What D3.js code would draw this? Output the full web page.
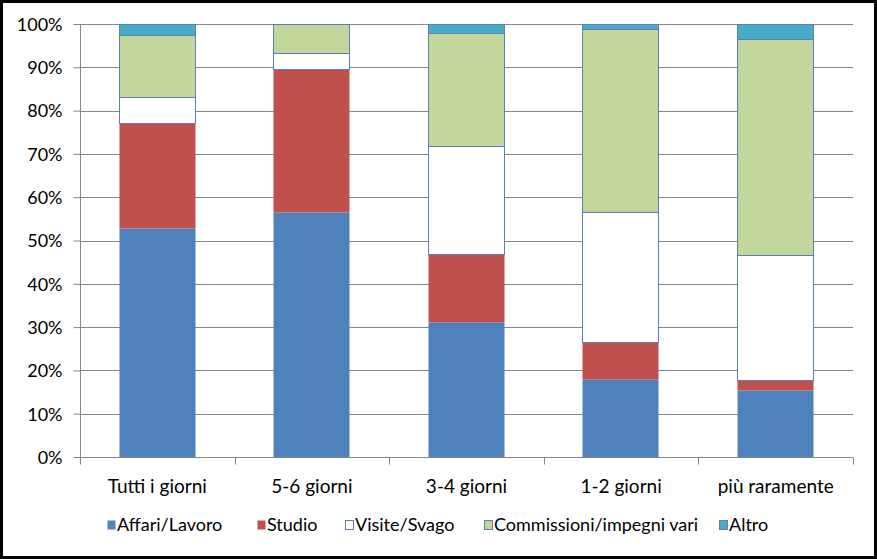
<!DOCTYPE html>
<html><head><meta charset="utf-8">
<script src="https://cdn.jsdelivr.net/npm/d3@7"></script>
<style>html,body{margin:0;padding:0;background:#fff;} text{font-family:Lato,"Open Sans",sans-serif;fill:#000;}</style>
</head><body>
<svg id="chart" width="877" height="559"></svg>
<script>
const categories = ["Tutti i giorni", "5-6 giorni", "3-4 giorni", "1-2 giorni", "più raramente"];
const seriesNames = ["Affari/Lavoro", "Studio", "Visite/Svago", "Commissioni/impegni vari", "Altro"];
const affari      = [53.0, 56.6, 31.2, 18.0, 15.5];
const studio      = [24.1, 32.9, 15.6, 8.5, 2.2];
const visite      = [6.0, 3.7, 25.0, 30.1, 28.9];
const commissioni = [14.4, 6.8, 26.1, 42.2, 50.0];
const altro       = [2.5, 0.0, 2.1, 1.2, 3.4];
const yTicks = [0, 10, 20, 30, 40, 50, 60, 70, 80, 90, 100];

const seriesValues = [affari, studio, visite, commissioni, altro];
const colors = ["#4F81BD", "#C0504D", "#FFFFFF", "#C3D69B", "#4BACC6"];
const strokes = [null, null, "#5A7EB5", "#5A7EB5", "#5A7EB5"];

const svg = d3.select("#chart");
const W = 877, H = 559;
const m = {left: 80, right: 24, top: 24, bottom: 102};

svg.append("rect").attr("x", 1.5).attr("y", 1.5).attr("width", W - 3).attr("height", H - 3)
  .attr("fill", "#fff").attr("stroke", "#000").attr("stroke-width", 3);

const x = d3.scaleBand().domain(categories).range([m.left, W - m.right]).paddingInner(0.5).paddingOuter(0.25);
const y = d3.scaleLinear().domain([0, 100]).range([H - m.bottom, m.top]);

// gridlines
svg.append("g").selectAll("line").data(yTicks.filter(d => d > 0)).join("line")
  .attr("x1", m.left).attr("x2", W - m.right)
  .attr("y1", d => Math.round(y(d)) + 0.5).attr("y2", d => Math.round(y(d)) + 0.5)
  .attr("stroke", "#868686").attr("stroke-width", 1);

// stacked data
const table = categories.map((c, i) => {
  const o = {cat: c};
  seriesNames.forEach((s, j) => o[s] = seriesValues[j][i]);
  return o;
});
const stack = d3.stack().keys(seriesNames)(table);

stack.forEach((layer, j) => {
  svg.append("g").selectAll("rect").data(layer).join("rect")
    .attr("x", d => Math.round(x(d.data.cat)) + 0.5)
    .attr("width", Math.round(x.bandwidth()) - 1)
    .attr("y", d => Math.round(y(d[1])) + 0.5)
    .attr("height", d => Math.max(0, Math.round(y(d[0])) - Math.round(y(d[1]))))
    .attr("fill", colors[j])
    .attr("stroke", strokes[j] || "none")
    .attr("stroke-width", 1);
});

// y axis
const yAxis = d3.axisLeft(y).tickValues(yTicks).tickFormat(d => d + "%").tickSize(7).tickPadding(11);
const gy = svg.append("g").attr("transform", `translate(${m.left + 0.5},0)`).call(yAxis);
gy.select(".domain").attr("stroke", "#868686").attr("d", `M0,${m.top}V${H - m.bottom}`);
gy.selectAll(".tick line").attr("stroke", "#868686");
gy.selectAll(".tick text").style("font-size", "18px").style("font-family", "Lato").attr("dy", "0.35em");

// x axis
const gx = svg.append("g").attr("transform", `translate(0,${Math.round(y(0)) + 0.5})`);
gx.append("line").attr("x1", m.left).attr("x2", W - m.right).attr("stroke", "#868686");
const step = x.step();
const bounds = d3.range(categories.length + 1).map(i => m.left + i * step);
gx.selectAll("line.tk").data(bounds).join("line").attr("class", "tk")
  .attr("x1", d => Math.round(d) + 0.5).attr("x2", d => Math.round(d) + 0.5)
  .attr("y1", 0).attr("y2", 7).attr("stroke", "#868686");
gx.selectAll("text").data(categories).join("text")
  .attr("x", d => x(d) + x.bandwidth() / 2).attr("y", 35)
  .attr("text-anchor", "middle").style("font-size", "19px").text(d => d);

// legend
const legendX = [107, 257, 345, 484, 719];
const lg = svg.append("g").attr("transform", "translate(0,525)");
seriesNames.forEach((s, j) => {
  lg.append("rect").attr("x", legendX[j] + 0.5).attr("y", -4.5).attr("width", 8).attr("height", 9)
    .attr("fill", colors[j]).attr("stroke", j >= 2 ? "#5A7EB5" : "none").attr("stroke-width", 1);
  lg.append("text").attr("x", legendX[j] + 10).attr("y", 0).attr("dy", "0.35em")
    .style("font-size", "18px").text(s);
});
</script>
</body></html>
